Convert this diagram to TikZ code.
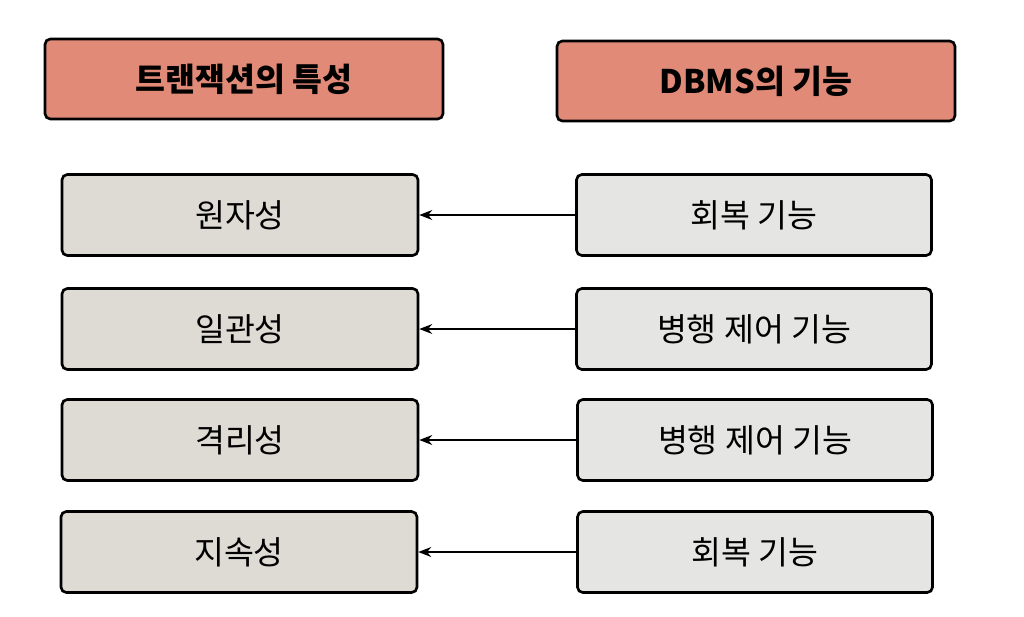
\documentclass[tikz,border=0pt]{standalone}
\usepackage{fontspec}
\setmainfont{Noto Sans CJK KR}
\usetikzlibrary{arrows.meta, positioning}
\definecolor{headRed}{RGB}{226, 138, 120}
\definecolor{leftGray}{RGB}{222, 219, 213}
\definecolor{rightGray}{RGB}{229, 229, 227}

\begin{document}
\begin{tikzpicture}[
        x=0.02cm,
        y=-0.02cm,
        boxBase/.style={
            draw=black,
            rounded corners=3pt,
            line width=1.5pt,
            align=center,
            inner sep=0pt,
            font=\fontsize{18.5}{20}\selectfont
        },
        headBox/.style={boxBase, fill=headRed, minimum width=7.96cm, minimum height=1.6cm, font=\fontsize{18.5}{20}\selectfont\bfseries},
        propBox/.style={boxBase, fill=leftGray, minimum width=7.12cm, minimum height=1.62cm},
        funcBox/.style={boxBase, fill=rightGray, minimum width=7.1cm, minimum height=1.62cm},
        link/.style={line width=0.8pt, -{Stealth[length=2.6mm, width=2mm]}}
    ]
        \useasboundingbox (0,0) rectangle (1024,616);

        \node[headBox] (propHead) at (244,79) {트랜잭션의 특성};
        \node[headBox] (funcHead) at (756,81) {DBMS의 기능};

        \node[propBox] (atomicity)   at (240,215) {원자성};
        \node[propBox] (consistency) at (240,329) {일관성};
        \node[propBox] (isolation)   at (240,440) {격리성};
        \node[propBox] (durability)  at (239,552) {지속성};

        \node[funcBox] (recoveryA)    at (754,215) {회복 기능};
        \node[funcBox] (concurrencyA) at (754,329) {병행 제어 기능};
        \node[funcBox] (concurrencyB) at (755,440) {병행 제어 기능};
        \node[funcBox] (recoveryB)    at (755,552) {회복 기능};

        \draw[link] (recoveryA)    -- (atomicity);
        \draw[link] (concurrencyA) -- (consistency);
        \draw[link] (concurrencyB) -- (isolation);
        \draw[link] (recoveryB)    -- (durability);
    \end{tikzpicture}
\end{document}
